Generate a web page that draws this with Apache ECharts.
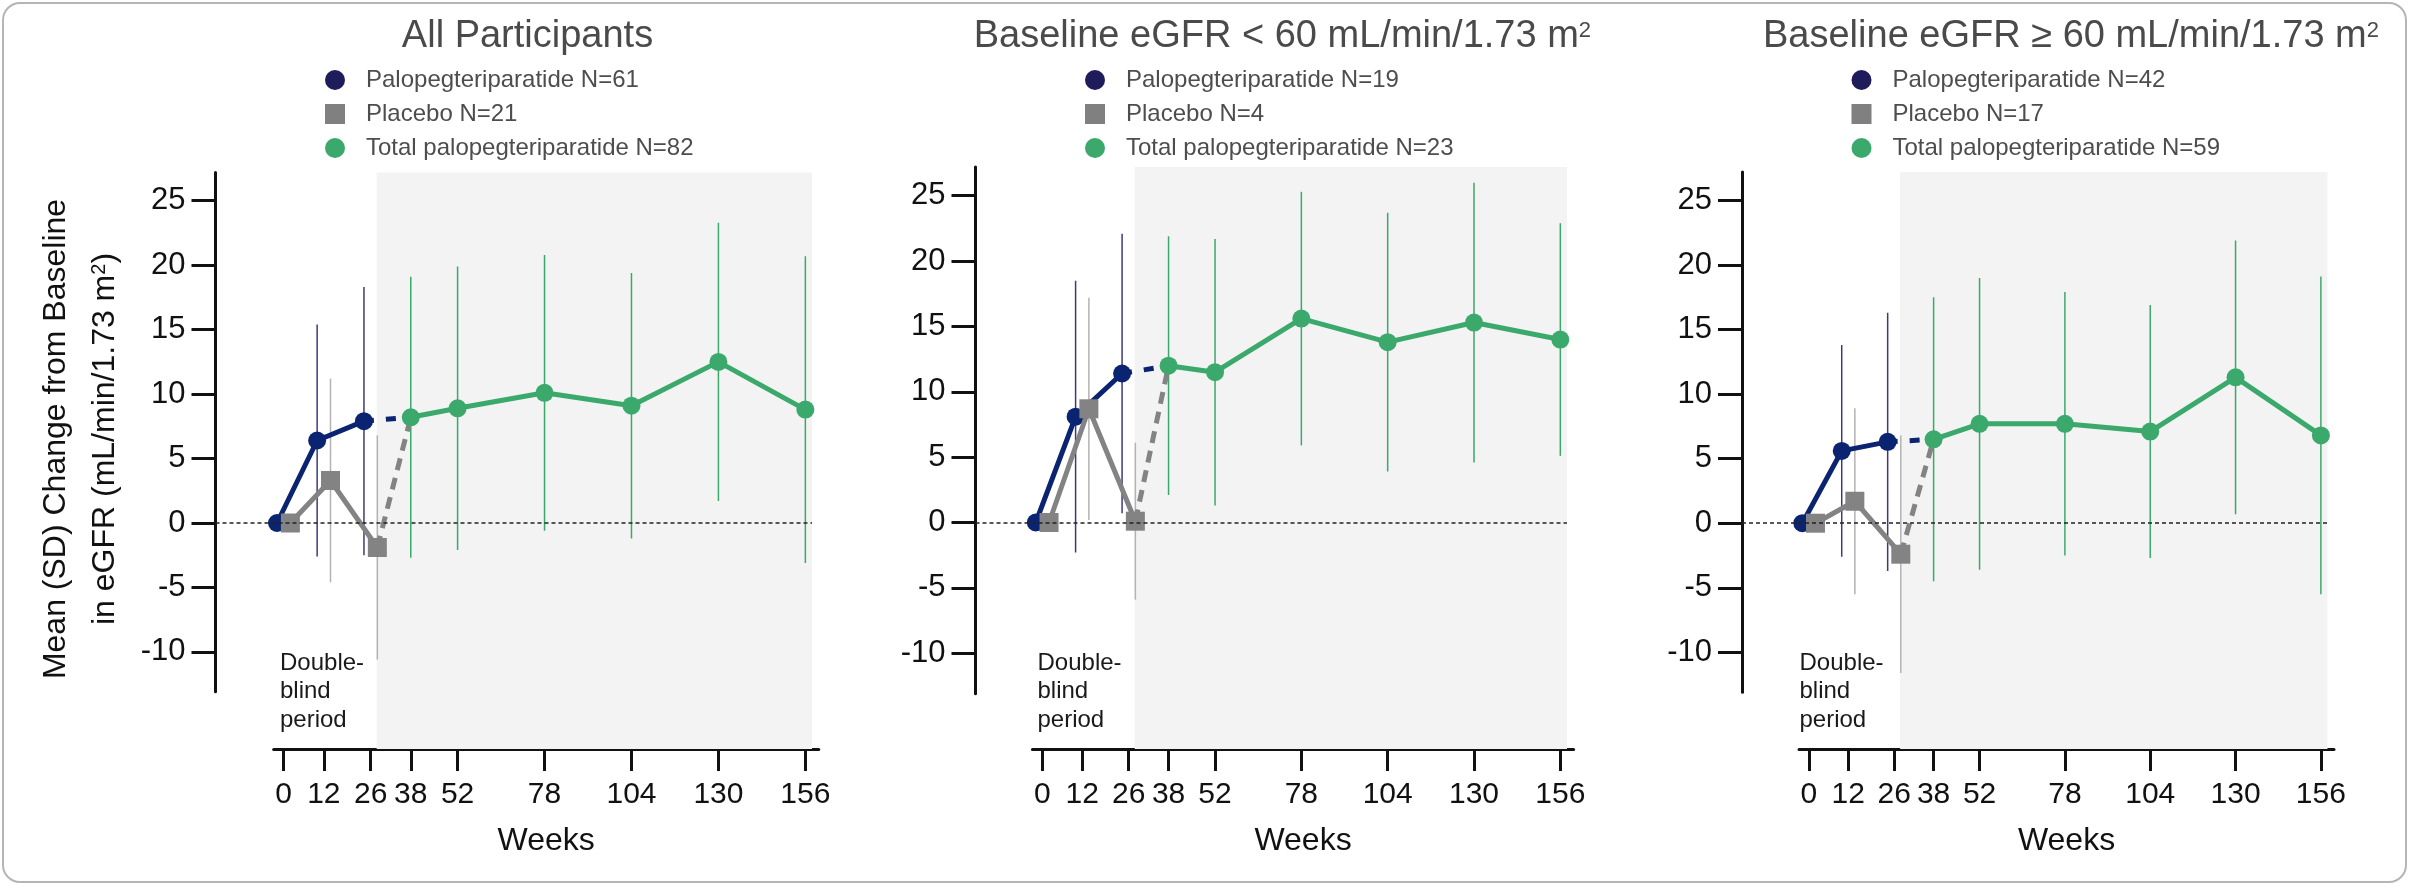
<!DOCTYPE html>
<html>
<head>
<meta charset="utf-8">
<script src="https://cdn.jsdelivr.net/npm/echarts@6/dist/echarts.min.js"></script>
<style>
html,body{margin:0;padding:0;background:#fff;}
#c{width:2420px;height:886px;}
</style>
</head>
<body>
<div id="c"></div>
<script>
// ---------- DATA ----------
const weeksDB = [0, 12, 26];
const weeksOLE = [38, 52, 78, 104, 130, 156];
const xTickValues = [0, 12, 26, 38, 52, 78, 104, 130, 156];
const yTickValues = [-10, -5, 0, 5, 10, 15, 20, 25];

const panelTitles = [
  'All Participants',
  'Baseline eGFR < 60 mL/min/1.73 m{sup|2}',
  'Baseline eGFR \u2265 60 mL/min/1.73 m{sup|2}'
];
const paloNames = ['Palopegteriparatide N=61', 'Palopegteriparatide N=19', 'Palopegteriparatide N=42'];
const placeboNames = ['Placebo N=21', 'Placebo N=4', 'Placebo N=17'];
const totalNames = ['Total palopegteriparatide N=82', 'Total palopegteriparatide N=23', 'Total palopegteriparatide N=59'];

// All participants
const allPaloMean = [0, 6.4, 7.9];
const allPaloSD = [0, 9.0, 10.4];
const allPlaceboMean = [0, 3.3, -1.9];
const allPlaceboSD = [0, 7.9, 8.7];
const allTotalMean = [8.2, 8.9, 10.1, 9.1, 12.5, 8.8];
const allTotalSD = [10.9, 11.0, 10.7, 10.3, 10.8, 11.9];

// Baseline eGFR < 60
const lowPaloMean = [0, 8.1, 11.4];
const lowPaloSD = [0, 10.4, 10.7];
const lowPlaceboMean = [0, 8.7, 0.1];
const lowPlaceboSD = [0, 8.5, 6.0];
const lowTotalMean = [12.0, 11.5, 15.6, 13.8, 15.3, 14.0];
const lowTotalSD = [9.9, 10.2, 9.7, 9.9, 10.7, 8.9];

// Baseline eGFR >= 60
const highPaloMean = [0, 5.6, 6.3];
const highPaloSD = [0, 8.2, 10.0];
const highPlaceboMean = [0, 1.7, -2.4];
const highPlaceboSD = [0, 7.2, 9.2];
const highTotalMean = [6.5, 7.7, 7.7, 7.1, 11.3, 6.8];
const highTotalSD = [11.0, 11.3, 10.2, 9.8, 10.6, 12.3];

// open-label extension shading range (weeks)
const oleStart = 27.8;
const oleEnd = 158;

// ---------- STYLE / LAYOUT ----------
const FONT = '"Liberation Sans", Arial, Helvetica, sans-serif';
const C_BLUE = '#0b2471';
const C_BLUE_LEG = '#1f1c5c';
const C_BLUE_ERR = '#3b3b7c';
const C_GREY = '#838383';
const C_GREY_ERR = '#b3b3b3';
const C_GREEN = '#3aa96b';
const PALO_DODGE = -2;
const PLACEBO_DODGE = 2;
const yMin = -13.1, yMax = 27.2, xMax = 160, xMinB = -3;
const xAxisLineY = 749;

const layout = [
  {yAxisX: 215.5, x0: 283.7, ppw: 3.344, zeroY: 523.0, unit: 12.89, titleX: 527.5, dbX: 280, olX: 586},
  {yAxisX: 975.5, x0: 1042.4, ppw: 3.320, zeroY: 522.5, unit: 13.07, titleX: 1282.4, dbX: 1037.5, olX: 1335.6},
  {yAxisX: 1742.0, x0: 1808.9, ppw: 3.282, zeroY: 523.2, unit: 12.91, titleX: 2071, dbX: 1799.5, olX: 2099}
];

const panels = [
  {pm: allPaloMean, ps: allPaloSD, qm: allPlaceboMean, qs: allPlaceboSD, tm: allTotalMean, ts: allTotalSD},
  {pm: lowPaloMean, ps: lowPaloSD, qm: lowPlaceboMean, qs: lowPlaceboSD, tm: lowTotalMean, ts: lowTotalSD},
  {pm: highPaloMean, ps: highPaloSD, qm: highPlaceboMean, qs: highPlaceboSD, tm: highTotalMean, ts: highTotalSD}
];

const option = {
  backgroundColor: '#ffffff',
  animation: false,
  textStyle: {fontFamily: FONT},
  grid: [], xAxis: [], yAxis: [], series: [], legend: [], graphic: []
};

function errBarSeries(xi, yi, data, color) {
  return {
    type: 'custom', xAxisIndex: xi, yAxisIndex: yi, silent: true, z: 1,
    encode: {x: 0, y: [1, 2]},
    data: data,
    renderItem: function (params, api) {
      const x = api.value(0);
      const p1 = api.coord([x, api.value(1)]);
      const p2 = api.coord([x, api.value(2)]);
      return {type: 'line', shape: {x1: p1[0], y1: p1[1], x2: p2[0], y2: p2[1]},
              style: {stroke: color, lineWidth: 1.5}};
    }
  };
}

panels.forEach(function (p, i) {
  const L = layout[i];
  const gTop = L.zeroY - yMax * L.unit;
  const gA = 2 * i, gB = 2 * i + 1;
  const xMinA = (L.yAxisX - L.x0) / L.ppw;

  option.grid.push({left: L.yAxisX, top: gTop, width: (L.x0 + xMax * L.ppw) - L.yAxisX,
                    height: (yMax - yMin) * L.unit, containLabel: false, outerBoundsMode: 'none'});
  option.grid.push({left: L.x0 + xMinB * L.ppw, top: gTop, width: (xMax - xMinB) * L.ppw,
                    height: xAxisLineY - gTop, containLabel: false, outerBoundsMode: 'none'});

  option.xAxis.push({type: 'value', gridIndex: gA, min: xMinA, max: xMax, show: false,
                     axisLine: {onZero: false}});
  option.xAxis.push({
    type: 'value', gridIndex: gB, min: xMinB, max: xMax,
    axisLine: {show: true, onZero: false, lineStyle: {color: '#111', width: 3}},
    axisTick: {show: true, length: 22, lineStyle: {color: '#111', width: 3}, customValues: xTickValues},
    axisLabel: {show: true, customValues: xTickValues, fontSize: 30, color: '#111', margin: 31,
                fontFamily: FONT, hideOverlap: false},
    splitLine: {show: false},
    name: 'Weeks', nameLocation: 'middle', nameGap: 76,
    nameTextStyle: {fontSize: 32, color: '#111', fontFamily: FONT}
  });

  option.yAxis.push({
    type: 'value', gridIndex: gA, min: yMin, max: yMax,
    axisLine: {show: true, onZero: false, lineStyle: {color: '#111', width: 3}},
    axisTick: {show: true, length: 24, lineStyle: {color: '#111', width: 3}, customValues: yTickValues},
    axisLabel: {show: true, customValues: yTickValues, fontSize: 31, color: '#111', margin: 30,
                fontFamily: FONT, hideOverlap: false},
    splitLine: {show: false}
  });
  option.yAxis.push({type: 'value', gridIndex: gB, min: 0, max: 1, show: false,
                     axisLine: {onZero: false}});

  // shading for open-label extension
  option.series.push({
    type: 'line', xAxisIndex: gB, yAxisIndex: gB, silent: true, z: 0,
    data: [[oleStart, 0]], showSymbol: false, symbolSize: 0, lineStyle: {width: 0},
    markArea: {silent: true, itemStyle: {color: '#f3f3f3'},
               data: [[{xAxis: oleStart}, {xAxis: oleEnd}]]}
  });

  // zero reference line
  option.series.push({
    type: 'line', xAxisIndex: gA, yAxisIndex: gA, silent: true, z: 1,
    data: [], markLine: {silent: true, symbol: ['none', 'none'], label: {show: false},
      lineStyle: {color: '#222', width: 1.5, type: [4, 3]},
      data: [[{coord: [xMinA, 0]}, {coord: [oleEnd, 0]}]]}
  });

  // error bars
  const paloErr = [], placeboErr = [], totalErr = [];
  weeksDB.forEach(function (w, j) {
    if (p.ps[j] > 0) paloErr.push([w + PALO_DODGE, p.pm[j] - p.ps[j], p.pm[j] + p.ps[j]]);
    if (p.qs[j] > 0) placeboErr.push([w + PLACEBO_DODGE, p.qm[j] - p.qs[j], p.qm[j] + p.qs[j]]);
  });
  weeksOLE.forEach(function (w, j) {
    totalErr.push([w, p.tm[j] - p.ts[j], p.tm[j] + p.ts[j]]);
  });
  option.series.push(errBarSeries(gA, gA, placeboErr, C_GREY_ERR));
  option.series.push(errBarSeries(gA, gA, paloErr, C_BLUE_ERR));
  option.series.push(errBarSeries(gA, gA, totalErr, C_GREEN));

  const lastDB = weeksDB.length - 1;
  // dashed connectors to first open-label point
  option.series.push({
    type: 'line', xAxisIndex: gA, yAxisIndex: gA, silent: true, z: 2, symbol: 'none',
    data: [[weeksDB[lastDB] + PALO_DODGE, p.pm[lastDB]], [weeksOLE[0], p.tm[0]]],
    lineStyle: {color: C_BLUE, width: 5, type: [10, 12]}
  });
  option.series.push({
    type: 'line', xAxisIndex: gA, yAxisIndex: gA, silent: true, z: 2, symbol: 'none',
    data: [[weeksDB[lastDB] + PLACEBO_DODGE, p.qm[lastDB]], [weeksOLE[0], p.tm[0]]],
    lineStyle: {color: C_GREY, width: 5, type: [12, 8]}
  });

  // main lines
  option.series.push({
    name: paloNames[i], type: 'line', xAxisIndex: gA, yAxisIndex: gA, silent: true, z: 3,
    data: weeksDB.map(function (w, j) { return [w + PALO_DODGE, p.pm[j]]; }),
    symbol: 'circle', symbolSize: 18, showSymbol: true,
    lineStyle: {color: C_BLUE, width: 5}, itemStyle: {color: C_BLUE}
  });
  option.series.push({
    name: placeboNames[i], type: 'line', xAxisIndex: gA, yAxisIndex: gA, silent: true, z: 4,
    data: weeksDB.map(function (w, j) { return [w + PLACEBO_DODGE, p.qm[j]]; }),
    symbol: 'rect', symbolSize: 19, showSymbol: true,
    lineStyle: {color: C_GREY, width: 5}, itemStyle: {color: C_GREY}
  });
  option.series.push({
    name: totalNames[i], type: 'line', xAxisIndex: gA, yAxisIndex: gA, silent: true, z: 5,
    data: weeksOLE.map(function (w, j) { return [w, p.tm[j]]; }),
    symbol: 'circle', symbolSize: 18, showSymbol: true,
    lineStyle: {color: C_GREEN, width: 5}, itemStyle: {color: C_GREEN}
  });

  // legend
  option.legend.push({
    orient: 'vertical', left: L.yAxisX + 119.5 - 10, top: 68, padding: 0,
    itemWidth: 20, itemHeight: 20, itemGap: 10, selectedMode: false,
    textStyle: {fontSize: 24, color: '#4d4d4d', fontFamily: FONT, padding: [0, 0, 0, 16]},
    data: [
      {name: paloNames[i], icon: 'circle', itemStyle: {color: C_BLUE_LEG}},
      {name: placeboNames[i], icon: 'rect', itemStyle: {color: '#808080'}},
      {name: totalNames[i], icon: 'circle', itemStyle: {color: C_GREEN}}
    ]
  });

  // title
  option.graphic.push({
    type: 'text', x: L.titleX, y: 37, silent: true,
    style: {text: panelTitles[i], fontSize: 38, fontFamily: FONT, fill: '#4a4a4a',
            align: 'center', verticalAlign: 'middle',
            rich: {sup: {fontSize: 22, fontFamily: FONT, fill: '#4a4a4a', padding: [0, 0, 12, 0]}}}
  });
  // period labels
  option.graphic.push({
    type: 'text', x: L.dbX, y: 649, silent: true,
    style: {text: 'Double-\nblind\nperiod', fontSize: 24, lineHeight: 28.5, fontFamily: FONT,
            fill: '#1a1a1a', align: 'left', verticalAlign: 'top'}
  });
  option.graphic.push({
    type: 'text', x: L.olX, y: 717, silent: true,
    style: {text: 'Open-label extension{sup|a}', fontSize: 24, fontFamily: FONT, fill: '#1a1a1a',
            align: 'center', verticalAlign: 'middle',
            rich: {sup: {fontSize: 15, fontFamily: FONT, fill: '#1a1a1a', padding: [0, 0, 11, 0]}}}
  });
});

// y-axis title
option.graphic.push({
  type: 'text', x: 81, y: 439, rotation: Math.PI / 2, silent: true,
  style: {text: 'Mean (SD) Change from Baseline\nin eGFR (mL/min/1.73 m{sup|2})',
          fontSize: 32, lineHeight: 49, fontFamily: FONT, fill: '#111',
          align: 'center', verticalAlign: 'middle',
          rich: {sup: {fontSize: 20, fontFamily: FONT, fill: '#111', padding: [0, 0, 12, 0]}}}
});
// outer frame
option.graphic.push({
  type: 'rect', silent: true, z: -10,
  shape: {x: 3, y: 3, width: 2403, height: 879, r: 17},
  style: {fill: 'none', stroke: '#b5b5b5', lineWidth: 2}
});

const chart = echarts.init(document.getElementById('c'), null, {renderer: 'canvas'});
chart.setOption(option);
</script>
</body>
</html>
